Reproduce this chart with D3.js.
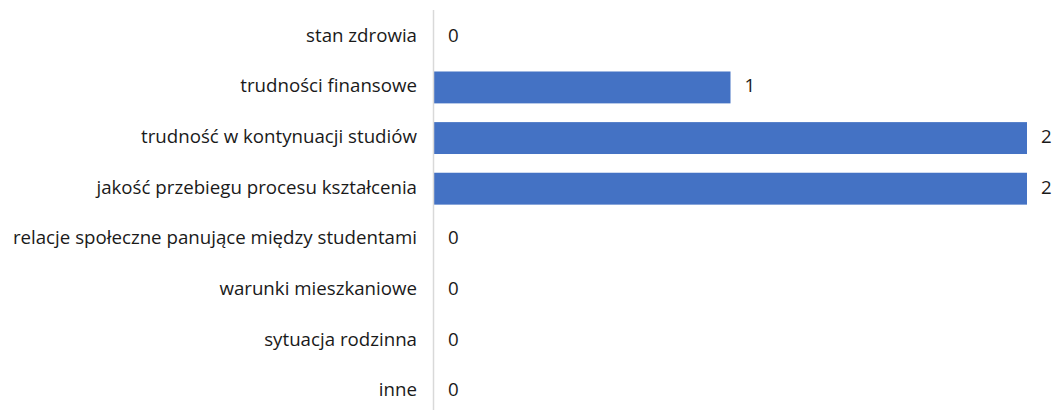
<!DOCTYPE html>
<html><head><meta charset="utf-8">
<script src="https://cdn.jsdelivr.net/npm/d3@7"></script>
<style>body{margin:0;background:#fff}</style></head>
<body><svg id="c" width="1056" height="410"></svg>
<script>
const categories = ["stan zdrowia","trudności finansowe","trudność w kontynuacji studiów","jakość przebiegu procesu kształcenia","relacje społeczne panujące między studentami","warunki mieszkaniowe","sytuacja rodzinna","inne"];
const values = [0,1,2,2,0,0,0,0];

const svg = d3.select("#c");
const x = d3.scaleLinear().domain([0,2]).range([434,1027]);
const y = d3.scaleBand().domain(categories).range([11.5,416.5]).paddingInner(0.37).paddingOuter(0.185);
const font = "'Open Sans', sans-serif";

svg.selectAll("rect.bar").data(categories).join("rect")
  .attr("x", x(0)).attr("y", d=>y(d))
  .attr("width", (d,i)=>x(values[i])-x(0)).attr("height", y.bandwidth())
  .attr("fill","#4472C4");

svg.append("line").attr("x1",433.5).attr("x2",433.5).attr("y1",10).attr("y2",410)
  .attr("stroke","#d9d9d9").attr("stroke-width",1.5);

const fs = 18.7;
svg.selectAll("text.cat").data(categories).join("text")
  .attr("x",417).attr("y",d=>y(d)+y.bandwidth()/2).attr("dy","0.27em")
  .attr("text-anchor","end").attr("font-family",font).attr("font-size",fs).attr("fill","#1a1a1a")
  .text(d=>d);

svg.selectAll("text.val").data(categories).join("text")
  .attr("x",(d,i)=>x(values[i])+14).attr("y",d=>y(d)+y.bandwidth()/2).attr("dy","0.27em")
  .attr("font-family",font).attr("font-size",fs).attr("fill","#1a1a1a")
  .text((d,i)=>values[i]);
</script></body></html>
